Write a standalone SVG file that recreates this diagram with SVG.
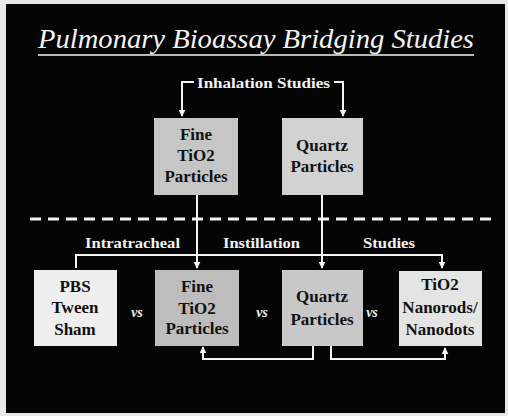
<svg xmlns="http://www.w3.org/2000/svg" width="508" height="416" viewBox="0 0 508 416">
<style>
.conn{fill:none;stroke:#f4f4f4;stroke-width:2}
.box{stroke:none}
.ttl{font-family:"Liberation Serif","Times New Roman",serif;font-style:italic;font-size:28px;fill:#f4f4f4}
.bt{font-family:"Liberation Serif",serif;font-weight:bold;font-size:17px;fill:#111;text-anchor:middle}
.lb{font-family:"Liberation Serif",serif;font-weight:bold;font-size:15.5px;fill:#f2f2f2}
.vs{font-family:"Liberation Serif",serif;font-weight:bold;font-style:italic;font-size:14px;fill:#eee;text-anchor:middle}
</style>
<defs>
<marker id="ah" viewBox="0 0 10 10" refX="9" refY="5" markerWidth="3.5" markerHeight="3.5" orient="auto" markerUnits="strokeWidth">
<path d="M0,0 L10,5 L0,10 z" fill="#f4f4f4"/>
</marker>
</defs>
<rect x="0" y="0" width="508" height="416" fill="#e8e8e8"/>
<rect x="6" y="4" width="499" height="409" fill="#050505"/>
<g id="title">
<text class="ttl" x="38" y="48" textLength="436" lengthAdjust="spacingAndGlyphs">Pulmonary Bioassay Bridging Studies</text>
<line x1="38" y1="55" x2="474" y2="55" stroke="#f4f4f4" stroke-width="1.5"/>
</g>
<g id="divider">
<line x1="30" y1="219" x2="494" y2="219" stroke="#f4f4f4" stroke-width="3" stroke-dasharray="11 7"/>
</g>
<g id="labels">
<text class="lb" x="197" y="88" textLength="133" lengthAdjust="spacingAndGlyphs">Inhalation Studies</text>
<text class="lb" x="85" y="248" textLength="95" lengthAdjust="spacingAndGlyphs">Intratracheal</text>
<text class="lb" x="223" y="248" textLength="77" lengthAdjust="spacingAndGlyphs">Instillation</text>
<text class="lb" x="363" y="248" textLength="52" lengthAdjust="spacingAndGlyphs">Studies</text>
<text class="vs" x="137" y="317">vs</text>
<text class="vs" x="262" y="317">vs</text>
<text class="vs" x="372" y="317">vs</text>
</g>
<g id="connectors">
<path class="conn" d="M194,82 H182 V116" marker-end="url(#ah)"/>
<path class="conn" d="M334,82 H343 V116" marker-end="url(#ah)"/>
<path class="conn" d="M197,195 V268" marker-end="url(#ah)"/>
<path class="conn" d="M322,195 V268" marker-end="url(#ah)"/>
<path class="conn" d="M76,268 V255 H442 V268" marker-end="url(#ah)"/>
<path class="conn" d="M313,346 V359 H203 V347" marker-end="url(#ah)"/>
<path class="conn" d="M331,346 V359 H445 V348" marker-end="url(#ah)"/>
</g>
<g id="top-fine">
<rect class="box" x="154" y="118" width="84" height="77" fill="#c6c6c6"/>
<text class="bt" x="196" y="140">Fine</text>
<text class="bt" x="196" y="161">TiO2</text>
<text class="bt" x="196" y="182">Particles</text>
</g>
<g id="top-quartz">
<rect class="box" x="282" y="118" width="81" height="77" fill="#d2d2d2"/>
<text class="bt" x="322" y="151">Quartz</text>
<text class="bt" x="322" y="172">Particles</text>
</g>
<g id="pbs">
<rect class="box" x="34" y="270" width="83" height="76" fill="#efefef"/>
<text class="bt" x="75" y="292">PBS</text>
<text class="bt" x="75" y="313">Tween</text>
<text class="bt" x="75" y="335">Sham</text>
</g>
<g id="bottom-fine">
<rect class="box" x="155" y="270" width="84" height="76" fill="#bdbdbd"/>
<text class="bt" x="197" y="292">Fine</text>
<text class="bt" x="197" y="314">TiO2</text>
<text class="bt" x="197" y="334">Particles</text>
</g>
<g id="bottom-quartz">
<rect class="box" x="282" y="270" width="81" height="76" fill="#c8c8c8"/>
<text class="bt" x="322" y="302">Quartz</text>
<text class="bt" x="322" y="325">Particles</text>
</g>
<g id="nanorods">
<rect class="box" x="399" y="271" width="83" height="75" fill="#e4e4e4"/>
<text class="bt" x="440" y="290">TiO2</text>
<text class="bt" x="440" y="313">Nanorods/</text>
<text class="bt" x="440" y="335">Nanodots</text>
</g>
</svg>
